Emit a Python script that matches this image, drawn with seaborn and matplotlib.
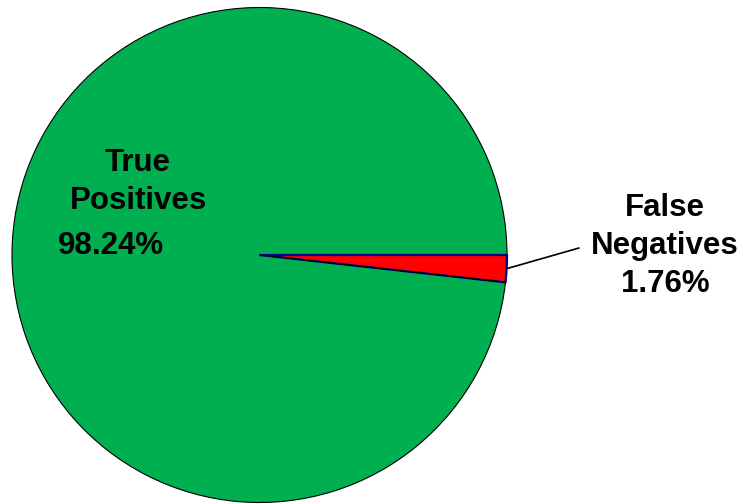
import numpy as np
import matplotlib
matplotlib.use("Agg")
import matplotlib.pyplot as plt
import seaborn as sns

sns.set_theme(style="white")
plt.rcParams["font.family"] = ["Liberation Sans", "DejaVu Sans"]

# data
labels = ["False Negatives", "True Positives"]
shares = [1.76, 98.24]
colors = sns.color_palette(["#FF0000", "#00B050"])
edge_colors = ["#000080", "black"]

W, H = 743, 504
fig = plt.figure(figsize=(W / 100, H / 100), dpi=100)
ax = fig.add_axes([0, 0, 1, 1])

center = (259.5, H - 255)
radius = 247.5
wedges, _ = ax.pie(shares, colors=colors, startangle=0, counterclock=False,
                   center=center, radius=radius, frame=True)
for w, ec in zip(wedges, edge_colors):
    w.set_edgecolor(ec)
    w.set_linewidth(0.8)
red = wedges[0]
red.set_linewidth(1.6)
red.set_zorder(3)

# the lower side of the thin slice is the green slice's black border
lo = np.deg2rad(min(red.theta1, red.theta2))
ax.plot([center[0], center[0] + radius * np.cos(lo)],
        [center[1], center[1] + radius * np.sin(lo)],
        color="black", lw=0.8, zorder=4, solid_capstyle="butt")

ax.set_xlim(0, W)
ax.set_ylim(0, H)
ax.set_aspect("equal")
ax.axis("off")

txt = dict(fontsize=22.5, fontweight="bold", color="black", ha="center", va="center")

# inside label for the big slice
ax.text(138, H - 163, "True", **txt)
ax.text(138, H - 201, "Positives", **txt)
ax.text(111, H - 246, f"{shares[1]:.2f}%", **txt)

# outside label with leader line for the thin slice
mid = np.deg2rad((red.theta1 + red.theta2) / 2)
tip = (center[0] + radius * np.cos(mid), center[1] + radius * np.sin(mid))
ax.annotate("", xy=tip, xytext=(579, H - 248),
            arrowprops=dict(arrowstyle="-", color="black", lw=1.2, shrinkA=0, shrinkB=0))
ax.text(665, H - 208, "False", **txt)
ax.text(665, H - 246, "Negatives", **txt)
ax.text(665, H - 284, f"{shares[0]:.2f}%", **txt)

fig.savefig("out.png", dpi=100)
